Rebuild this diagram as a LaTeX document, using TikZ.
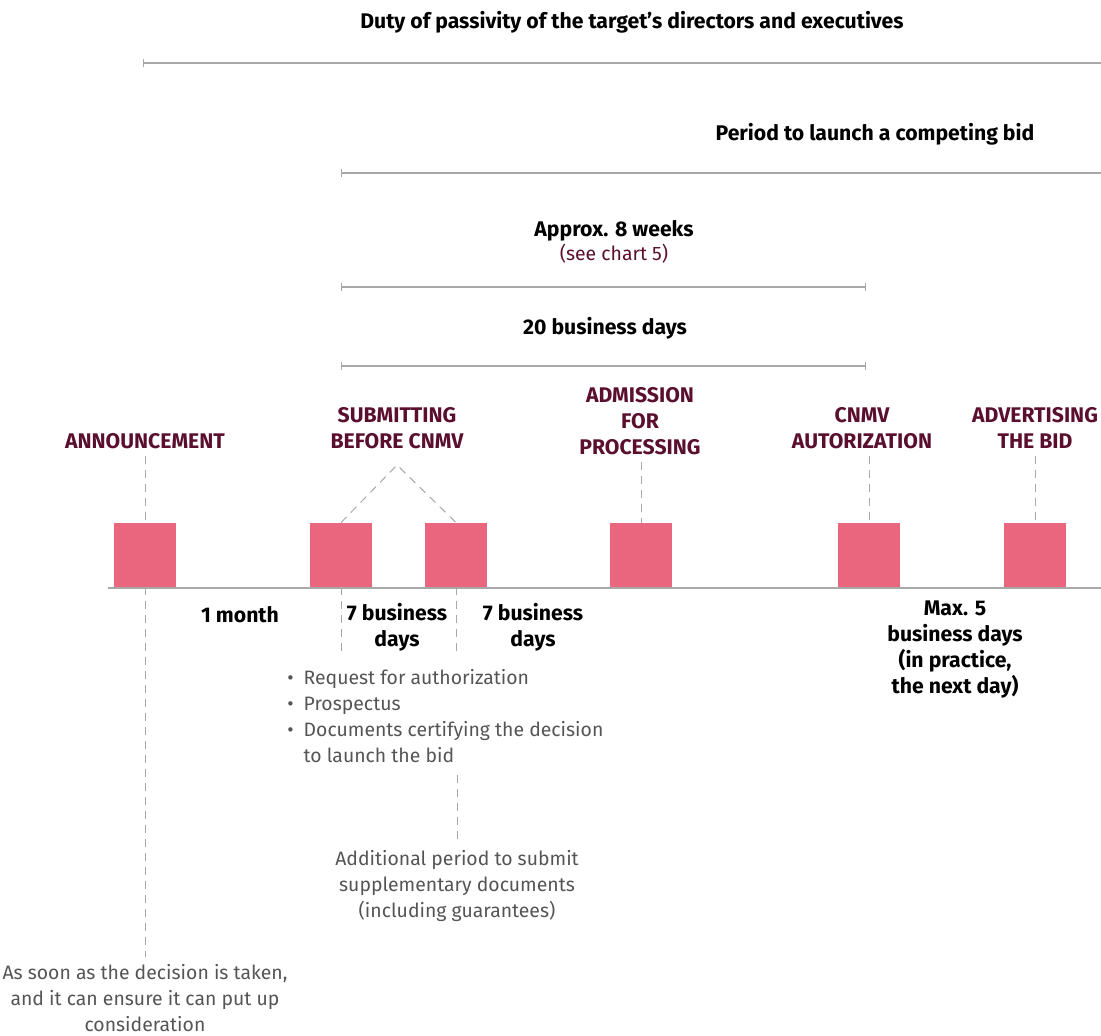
\documentclass[tikz,border=0pt]{standalone}
\usepackage{fontspec}
\setmainfont{Fira Sans}
\usetikzlibrary{arrows.meta}
\definecolor{eventred}{HTML}{5B0F2F}
\definecolor{boxpink}{HTML}{EA667E}
\definecolor{rulegray}{HTML}{A8A8A8}
\definecolor{notegray}{HTML}{555555}

\begin{document}
\begin{tikzpicture}[x=0.5pt,y=-0.5pt,
    every node/.style={font=\fontsize{9.7}{13}\selectfont},
    heading/.style={font=\fontsize{10.6}{13}\selectfont\bfseries, align=center},
    event/.style={heading, text=eventred},
    period/.style={heading},
    note/.style={text=notegray, align=center},
    milestone/.style={fill=boxpink, minimum width=31pt, minimum height=32pt, inner sep=0pt},
    span/.style={draw=rulegray, line width=0.7pt},
    guide/.style={draw=rulegray, line width=0.5pt, dash pattern=on 4pt off 3pt}]
    \useasboundingbox (0,0) rectangle (1101,1036);

    % durations above the time line
    \node[period] (duty) at (632,22) {Duty of passivity of the target’s directors and executives};
    \coordinate (dutyA) at (143,63);
    \coordinate (dutyB) at (1101,63);
    \draw[span,{Bar[width=4pt]}-] (dutyA) -- (dutyB);

    \node[period] (compete) at (875,134) {Period to launch a competing bid};
    \coordinate (competeA) at (341,173);
    \coordinate (competeB) at (1101,173);
    \draw[span,{Bar[width=4pt]}-] (competeA) -- (competeB);

    \node[period] (weeks) at (614,242) {Approx. 8 weeks\\[-1pt]{\mdseries\fontsize{9.7}{13}\selectfont\color{eventred}(see chart 5)}};
    \coordinate (weeksA) at (341,287);
    \coordinate (weeksB) at (866,287);
    \draw[span,{Bar[width=4pt]}-{Bar[width=4pt]}] (weeksA) -- (weeksB);

    \node[period] (bdays) at (605,328) {20 business days};
    \coordinate (bdaysA) at (341,366);
    \coordinate (bdaysB) at (866,366);
    \draw[span,{Bar[width=4pt]}-{Bar[width=4pt]}] (bdaysA) -- (bdaysB);

    % milestones
    \foreach \name/\x in {ann/145,sub/341,doc/456,adm/641,aut/869,adv/1035}
        \node[milestone] (\name) at (\x,555) {};
    \coordinate (axisA) at (108,588);
    \coordinate (axisB) at (1101,588);
    \draw[draw=rulegray, line width=1pt] (axisA) -- (axisB);

    \node[event] (annL) at (145,441) {ANNOUNCEMENT};
    \node[event] (subL) at (397,428) {SUBMITTING\\BEFORE CNMV};
    \node[event] (admL) at (640,421) {ADMISSION\\FOR\\PROCESSING};
    \node[event] (autL) at (862,428) {CNMV\\AUTORIZATION};
    \node[event] (advL) at (1035,428) {ADVERTISING\\THE BID};

    \draw[guide] (annL.south -| ann.north) -- (ann.north);
    \coordinate (apex) at (397,465);
    \draw[guide] (sub.north) -- (apex) -- (doc.north);
    \draw[guide] (admL.south -| adm.north) -- (adm.north);
    \draw[guide] (autL.south -| aut.north) -- (aut.north);
    \draw[guide] (advL.south) -- (adv.north);

    % below the time line
    \node[period] (month) at (240,615) {1 month};
    \node[period] (seven1) at (397,627) {7 business\\days};
    \node[period] (seven2) at (533,627) {7 business\\days};
    \node[period] (maxfive) at (955,650) {Max. 5\\business days\\(in practice,\\the next day)};

    \coordinate (subEnd) at (341,652);
    \coordinate (docEnd) at (456,652);
    \draw[guide] (sub.south) -- (subEnd);
    \draw[guide] (doc.south) -- (docEnd);

    \node[text=notegray, anchor=north west, inner sep=0pt] (docs) at (287,666)
        {\begin{tabular}{@{}l@{\hspace{5pt}}l@{}}
         \textbullet & Request for authorization\\
         \textbullet & Prospectus\\
         \textbullet & Documents certifying the decision\\
                     & to launch the bid
         \end{tabular}};

    \node[note] (extra) at (457,886) {Additional period to submit\\supplementary documents\\(including guarantees)};
    \coordinate (extraTop) at (457,775);
    \draw[guide] (extraTop) -- (extra.north);

    \node[note] (asap) at (145,998) {As soon as the decision is taken,\\and it can ensure it can put up\\consideration};
    \draw[guide] (ann.south) -- (asap.north);
\end{tikzpicture}
\end{document}
